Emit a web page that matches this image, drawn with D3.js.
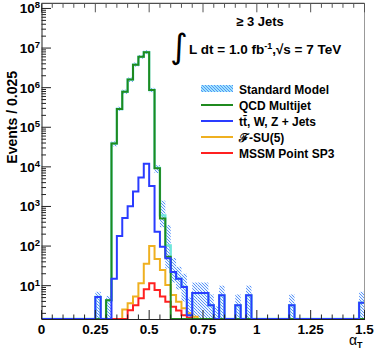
<!DOCTYPE html>
<html>
<head>
<meta charset="utf-8">
<script src="https://cdn.jsdelivr.net/npm/d3@7"></script>
<style>
  body { margin: 0; background: #fff; }
  svg { display: block; font-family: "Liberation Sans", Arial, sans-serif; font-weight: bold; }
</style>
</head>
<body>
<svg id="chart" width="374" height="350"></svg>
<script>
// bins of 0.025 in alpha_T, from 0 to 1.5 (60 bins)
const BIN_W = 0.025;
const N_BINS = 60;

const qcd = [
  0, 0, 0, 0, 0, 0, 0, 0, 0, 0,
  0, 0, 4.3, 3.9e4, 2.9e5, 7.9e5, 1.6e6, 3.8e6, 6.0e6, 7.8e6,
  8.7e5, 9.2e3, 500, 54, 0, 0, 0, 0, 0, 0,
  0, 0, 0, 0, 0, 0, 0, 0, 0, 0,
  0, 0, 0, 0, 0, 0, 0, 0, 0, 0,
  0, 0, 0, 0, 0, 0, 0, 0, 0, 0
];
const ewk = [
  0, 0, 0, 0, 0, 0, 0, 0, 0, 0,
  5.2, 0, 0, 15, 180, 510, 1020, 2400, 5400, 1.2e4,
  3300, 230, 96, 49, 22, 15, 9.3, 1.8, 6.5, 6.5,
  6.5, 3.2, 0, 5.7, 0, 0, 3.2, 0, 5.7, 0,
  0, 0, 0, 0, 0, 0, 3.2, 0, 0, 0,
  0, 0, 0, 0, 0, 0, 0, 0, 0, 3.7
];
const fsu5 = [
  0, 0, 0, 0, 0, 0, 0, 0, 0, 0,
  0, 0, 0, 0, 0, 2.5, 3.6, 5.3, 11.5, 36,
  100, 47, 25, 10.4, 5.8, 3.9, 2.7, 2.0, 1.64, 0,
  0, 0, 0, 0, 0, 0, 0, 0, 0, 0,
  0, 0, 0, 0, 0, 0, 0, 0, 0, 0,
  0, 0, 0, 0, 0, 0, 0, 0, 0, 0
];
const sp3 = [
  0, 0, 0, 0, 0, 0, 0, 0, 0, 0,
  0, 0, 0, 0, 0, 0, 2.4, 3.2, 4.8, 8.1,
  11.5, 7.8, 5.3, 3.9, 2.95, 2.35, 1.8, 1.55, 0, 0,
  0, 0, 0, 0, 0, 0, 0, 0, 0, 0,
  0, 0, 0, 0, 0, 0, 0, 0, 0, 0,
  0, 0, 0, 0, 0, 0, 0, 0, 0, 0
];
// Standard Model uncertainty band (lower / upper edge per bin)
const smLo = [
  0, 0, 0, 0, 0, 0, 0, 0, 0, 0,
  0, 0, 0, 3.3e4, 2.6e5, 7.0e5, 1.4e6, 3.4e6, 5.4e6, 7.0e6,
  7.7e5, 7000, 300, 27, 12, 8, 4, 0, 0, 0,
  0, 0, 0, 0, 0, 0, 0, 0, 0, 0,
  0, 0, 0, 0, 0, 0, 0, 0, 0, 0,
  0, 0, 0, 0, 0, 0, 0, 0, 0, 0
];
const smHi = [
  0, 0, 0, 0, 0, 0, 0, 0, 0, 0,
  7, 0, 5.5, 4.4e4, 3.3e5, 8.9e5, 1.8e6, 4.3e6, 6.7e6, 8.8e6,
  9.9e5, 1.1e4, 1400, 340, 50, 30, 20, 5, 12, 12,
  12, 6, 3, 10, 0, 0, 6, 0, 10, 0,
  0, 0, 0, 0, 0, 0, 6, 0, 0, 0,
  0, 0, 0, 0, 0, 0, 0, 0, 0, 7
];

const xTicks = [0, 0.25, 0.5, 0.75, 1, 1.25, 1.5];
const xTickLabels = ["0", "0.25", "0.5", "0.75", "1", "1.25", "1.5"];
const yExponents = [1, 2, 3, 4, 5, 6, 7, 8];

const legendLabels = ["Standard Model", "QCD Multijet", "tt\u0304, W, Z + Jets", "\u2131-SU(5)", "MSSM Point SP3"];
const legendColors = [null, "#1f8a1f", "#2a3cff", "#efb020", "#ff2020"];

const Y_MIN = 1.44;
const Y_MAX = 1.35e8;

const plot = { left: 41.5, right: 364.5, top: 3.3, bottom: 319 };

const svg = d3.select("#chart");

const x = d3.scaleLinear().domain([0, 1.5]).range([plot.left, plot.right]);
const y = d3.scaleLog().domain([Y_MIN, Y_MAX]).range([plot.bottom, plot.top]);

const defs = svg.append("defs");
defs.append("clipPath").attr("id", "plotclip")
  .append("rect")
  .attr("x", plot.left).attr("y", plot.top)
  .attr("width", plot.right - plot.left).attr("height", plot.bottom - plot.top + 1);

const hatch = defs.append("pattern")
  .attr("id", "hatch")
  .attr("patternUnits", "userSpaceOnUse")
  .attr("width", 3).attr("height", 3);
hatch.append("rect").attr("width", 3).attr("height", 3).attr("fill", "#eaf6ff");
hatch.append("path")
  .attr("d", "M-1,-1 L4,4 M-1,2 L1,4 M2,-1 L4,1")
  .attr("stroke", "#4f86f7")
  .attr("stroke-width", 0.9);

const hatchLeg = defs.append("pattern")
  .attr("id", "hatchleg")
  .attr("patternUnits", "userSpaceOnUse")
  .attr("width", 3).attr("height", 3);
hatchLeg.append("rect").attr("width", 3).attr("height", 3).attr("fill", "#9fe6fb");
hatchLeg.append("path")
  .attr("d", "M-1,-1 L4,4 M-1,2 L1,4 M2,-1 L4,1")
  .attr("stroke", "#4f86f7")
  .attr("stroke-width", 0.9);

const clamp = (v) => Math.min(Math.max(v, Y_MIN), Y_MAX);

const plotG = svg.append("g").attr("clip-path", "url(#plotclip)");

// SM uncertainty band
const bandBins = d3.range(N_BINS).filter((i) => smHi[i] > 0);
plotG.append("g").selectAll("rect")
  .data(bandBins)
  .join("rect")
  .attr("x", (i) => x(i * BIN_W))
  .attr("width", (i) => x((i + 1) * BIN_W) - x(i * BIN_W))
  .attr("y", (i) => y(clamp(smHi[i])))
  .attr("height", (i) => y(clamp(smLo[i])) - y(clamp(smHi[i])))
  .attr("fill", "url(#hatch)");

const stepLine = d3.line()
  .x((d) => x(d[0]))
  .y((d) => y(clamp(d[1])))
  .curve(d3.curveStepAfter);

const stepPoints = (vals) => {
  const pts = vals.map((v, i) => [i * BIN_W, v]);
  pts.push([N_BINS * BIN_W, vals[N_BINS - 1]]);
  return pts;
};

const smTotal = qcd.map((v, i) => v + ewk[i]);

const drawHist = (vals, color, width) => {
  plotG.append("path")
    .attr("d", stepLine(stepPoints(vals)))
    .attr("fill", "none")
    .attr("stroke", color)
    .attr("stroke-width", width);
};

drawHist(smTotal, "#6fe6dc", 2.4);
drawHist(fsu5, legendColors[3], 2);
drawHist(sp3, legendColors[4], 2);
drawHist(qcd, legendColors[1], 2);
drawHist(ewk, legendColors[2], 2);

// frame
svg.append("line").attr("x1", plot.right).attr("x2", plot.right)
  .attr("y1", plot.top).attr("y2", plot.bottom)
  .attr("stroke", "#999").attr("stroke-width", 1);
svg.append("line").attr("x1", plot.left).attr("x2", plot.right)
  .attr("y1", plot.top).attr("y2", plot.top)
  .attr("stroke", "#222").attr("stroke-width", 1);

// x axis (bottom + top ticks)
const xMinor = d3.range(0, 1.5001, 0.05);
const xAxisBottom = d3.axisBottom(x).tickValues(xMinor).tickSize(0).tickFormat("");
svg.append("g").attr("transform", `translate(0,${plot.bottom})`).call(xAxisBottom)
  .call((g) => g.select(".domain").attr("stroke", "#222"));

const xt = svg.append("g");
xMinor.forEach((t) => {
  const major = xTicks.some((m) => Math.abs(m - t) < 1e-6);
  const len = major ? 9 : 4.5;
  xt.append("line").attr("x1", x(t)).attr("x2", x(t))
    .attr("y1", plot.bottom).attr("y2", plot.bottom - len)
    .attr("stroke", "#222").attr("stroke-width", 1);
  xt.append("line").attr("x1", x(t)).attr("x2", x(t))
    .attr("y1", plot.top).attr("y2", plot.top + len)
    .attr("stroke", "#555").attr("stroke-width", 1);
});
xTicks.forEach((t, i) => {
  svg.append("text")
    .attr("x", x(t)).attr("y", 333.5)
    .attr("text-anchor", "middle")
    .attr("font-size", 13.5)
    .text(xTickLabels[i]);
});

// y axis
const yAxis = d3.axisLeft(y).tickValues([]).tickSize(0);
svg.append("g").attr("transform", `translate(${plot.left},0)`).call(yAxis)
  .call((g) => g.select(".domain").attr("stroke", "#222"));

const yt = svg.append("g");
for (let e = 0; e <= 8; e++) {
  for (let m = 1; m <= 9; m++) {
    const v = m * Math.pow(10, e);
    if (v < Y_MIN || v > Y_MAX) continue;
    const len = m === 1 ? 9.5 : 4.5;
    yt.append("line").attr("x1", plot.left).attr("x2", plot.left + len)
      .attr("y1", y(v)).attr("y2", y(v))
      .attr("stroke", "#222").attr("stroke-width", 1);
  }
}
yExponents.forEach((e) => {
  const ty = Math.max(y(Math.pow(10, e)) + 5, 13);
  const t = svg.append("text")
    .attr("x", 40).attr("y", ty)
    .attr("text-anchor", "end")
    .attr("font-size", 13.5);
  t.append("tspan").text("10");
  t.append("tspan").attr("dy", -5).attr("font-size", 9.5).text(e);
});

// axis titles
svg.append("text")
  .attr("transform", "translate(17,71) rotate(-90)")
  .attr("text-anchor", "end")
  .attr("font-size", 14)
  .text("Events / 0.025");

const aT = svg.append("text").attr("x", 349).attr("y", 345).attr("font-size", 14);
aT.append("tspan").attr("font-weight", "normal").text("\u03b1");
aT.append("tspan").attr("dy", 3).attr("font-size", 9).text("T");

// annotations
svg.append("text").attr("x", 260).attr("y", 26)
  .attr("text-anchor", "middle").attr("font-size", 13)
  .text("\u2265 3 Jets");

svg.append("text").attr("x", 179).attr("y", 58)
  .attr("text-anchor", "middle").attr("font-size", 34)
  .attr("font-family", "DejaVu Sans").attr("font-weight", "normal")
  .text("\u222b");

const lumi = svg.append("text").attr("x", 189).attr("y", 54).attr("font-size", 13.5);
lumi.append("tspan").text("L dt = 1.0 fb");
lumi.append("tspan").attr("dy", -5).attr("font-size", 9).text("-1");
lumi.append("tspan").attr("dy", 5).text(",\u221as = 7 TeV");

// legend
const leg = svg.append("g");
legendLabels.forEach((label, i) => {
  const ly = 89 + i * 16;
  if (i === 0) {
    leg.append("rect").attr("x", 201).attr("y", ly - 4).attr("width", 32).attr("height", 7)
      .attr("fill", "url(#hatchleg)");
  } else {
    leg.append("line").attr("x1", 201).attr("x2", 233)
      .attr("y1", ly).attr("y2", ly)
      .attr("stroke", legendColors[i]).attr("stroke-width", 2);
  }
  leg.append("text").attr("x", 239).attr("y", ly + 4.5)
    .attr("font-size", 12)
    .text(label);
});
</script>
</body>
</html>
